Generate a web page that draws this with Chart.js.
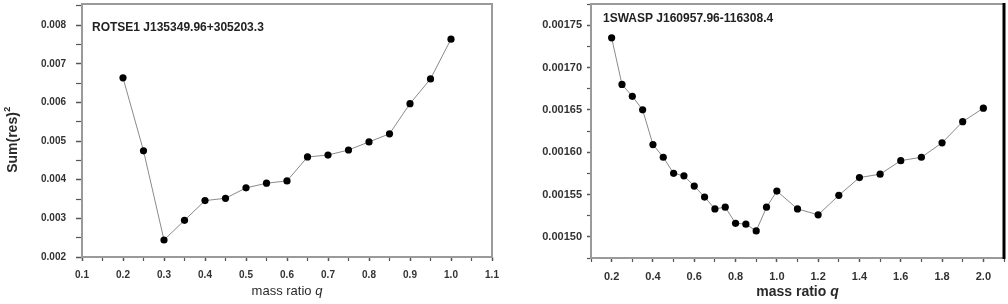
<!DOCTYPE html>
<html>
<head>
<meta charset="utf-8">
<script src="https://cdn.jsdelivr.net/npm/chart.js@4.4.1/dist/chart.umd.min.js"></script>
<style>
html,body{margin:0;padding:0;background:#fff;}
#wrap{position:relative;width:1008px;height:304px;overflow:hidden;}
.box{position:absolute;top:0;height:304px;}
</style>
</head>
<body>
<div id="wrap">
  <div class="box" style="left:0;width:500px;"><canvas id="c1"></canvas></div>
  <div class="box" style="left:500px;width:508px;"><canvas id="c2"></canvas></div>
</div>
<script>
// ---- data: ROTSE1 J135349.96+305203.3 ----
const qLeft = [0.20,0.25,0.30,0.35,0.40,0.45,0.50,0.55,0.60,0.65,0.70,0.75,0.80,0.85,0.90,0.95,1.00];
const sumLeft = [0.00664,0.00475,0.00244,0.00295,0.00346,0.00352,0.00379,0.00391,0.00397,0.00459,0.00464,0.00477,0.00498,0.00519,0.00597,0.00661,0.00764];
const titleLeft = 'ROTSE1 J135349.96+305203.3';

// ---- data: 1SWASP J160957.96-116308.4 ----
const qRight = [0.20,0.25,0.30,0.35,0.40,0.45,0.50,0.55,0.60,0.65,0.70,0.75,0.80,0.85,0.90,0.95,1.00,1.10,1.20,1.30,1.40,1.50,1.60,1.70,1.80,1.90,2.00];
const sumRight = [0.001735,0.001680,0.001666,0.001650,0.001609,0.001594,0.001575,0.001572,0.001560,0.001547,0.001533,0.001535,0.001516,0.001515,0.001507,0.001535,0.001554,0.001533,0.001526,0.001549,0.001570,0.001574,0.001590,0.001594,0.001611,0.001636,0.001652];
const titleRight = '1SWASP J160957.96-116308.4';

const xTitleMain = 'mass ratio ';
const xTitleVar = 'q';
const yTitleMain = 'Sum(res)';
const yTitleSup = '2';

const FONT = "'Liberation Sans', Arial, sans-serif";

const framePlugin = {
  id: 'frame',
  afterDraw(chart, args, o) {
    const {ctx, chartArea: a} = chart;
    ctx.save();
    ctx.lineWidth = 2;
    ctx.strokeStyle = o.color || '#999';
    ctx.strokeRect(a.left, a.top, a.right - a.left, a.bottom - a.top);
    if (o.rightColor) {
      ctx.strokeStyle = o.rightColor;
      ctx.lineWidth = 3;
      ctx.beginPath();
      ctx.moveTo(a.right, a.top - 1);
      ctx.lineTo(a.right, a.bottom + 1);
      ctx.stroke();
    }
    ctx.restore();
  }
};

const labelPlugin = {
  id: 'label',
  afterDraw(chart, args, o) {
    const {ctx, chartArea: a} = chart;
    ctx.save();
    ctx.font = o.font;
    ctx.fillStyle = '#222';
    ctx.textBaseline = 'middle';
    ctx.fillText(o.text, a.left + o.dx, a.top + o.dy);
    ctx.restore();
  }
};

// axis titles drawn as text (allows italic q and superscript 2)
const titlesPlugin = {
  id: 'titles',
  afterDraw(chart, args, o) {
    const ctx = chart.ctx;
    const a = chart.chartArea;
    ctx.save();
    ctx.fillStyle = '#2a2a2a';
    ctx.textBaseline = 'middle';
    // x title
    const f1 = o.xWeight + ' ' + o.xSize + 'px ' + FONT;
    const f2 = 'italic ' + o.xWeight + ' ' + o.xSize + 'px ' + FONT;
    ctx.font = f1; const w1 = ctx.measureText(xTitleMain).width;
    ctx.font = f2; const w2 = ctx.measureText(xTitleVar).width;
    const cx = (a.left + a.right) / 2 + o.xShift;
    let x0 = cx - (w1 + w2) / 2;
    ctx.font = f1; ctx.textAlign = 'left';
    ctx.fillText(xTitleMain, x0, o.xY);
    ctx.font = f2;
    ctx.fillText(xTitleVar, x0 + w1, o.xY);
    // y title
    if (o.yShow) {
      ctx.translate(o.yX, o.yY);
      ctx.rotate(-Math.PI / 2);
      const g1 = 'bold ' + o.ySize + 'px ' + FONT;
      const g2 = 'bold ' + Math.round(o.ySize * 0.65) + 'px ' + FONT;
      ctx.font = g1; const v1 = ctx.measureText(yTitleMain).width;
      ctx.font = g2; const v2 = ctx.measureText(yTitleSup).width;
      const s = -(v1 + v2) / 2;
      ctx.font = g1; ctx.fillText(yTitleMain, s, 0);
      ctx.font = g2; ctx.fillText(yTitleSup, s + v1 + 0.5, -o.ySize * 0.42);
    }
    ctx.restore();
  }
};

function isMult(v, step) {
  const r = v / step;
  return Math.abs(r - Math.round(r)) < 1e-6;
}

function makeChart(id, cfg) {
  const pts = cfg.xs.map((x, i) => ({x: x, y: cfg.ys[i]}));
  return new Chart(document.getElementById(id), {
    type: 'line',
    data: {
      datasets: [{
        data: pts,
        borderColor: '#8a8a8a',
        borderWidth: 1,
        pointRadius: 3.6,
        pointBackgroundColor: '#000',
        pointBorderColor: '#000',
        pointBorderWidth: 0,
        tension: 0
      }]
    },
    options: {
      responsive: true,
      maintainAspectRatio: false,
      animation: false,
      events: [],
      layout: {padding: {top: cfg.padTop, right: cfg.padRight, left: 0, bottom: 0}},
      plugins: {
        legend: {display: false},
        tooltip: {enabled: false},
        frame: {color: '#9a9a9a', rightColor: cfg.rightColor},
        label: {text: cfg.label, font: 'bold ' + cfg.labelSize + 'px ' + FONT, dx: cfg.labelDx, dy: cfg.labelDy},
        titles: cfg.titles
      },
      scales: {
        x: {
          type: 'linear',
          min: cfg.xmin, max: cfg.xmax,
          border: {display: false},
          grid: {
            drawOnChartArea: false, drawTicks: true, tickLength: 4,
            tickColor: '#555',
            tickWidth: c => isMult(c.tick.value, cfg.xMajor) ? 1.5 : 1.2
          },
          ticks: {
            stepSize: cfg.xStep,
            includeBounds: false,
            autoSkip: false,
            maxRotation: 0,
            padding: 8,
            color: '#333',
            font: {family: FONT, size: cfg.tickSize, weight: 'bold'},
            callback: v => isMult(v, cfg.xMajor) ? v.toFixed(1) : ''
          },
          afterFit: s => { s.height = cfg.xAxisH; s.paddingLeft = 0; s.paddingRight = 0; s.paddingTop = 0; s.paddingBottom = 0; }
        },
        y: {
          type: 'linear',
          min: cfg.ymin, max: cfg.ymax,
          border: {display: false},
          grid: {
            drawOnChartArea: false, drawTicks: true, tickLength: cfg.yTickLen,
            tickColor: '#555',
            tickWidth: c => isMult(c.tick.value, cfg.yMajor) ? 1.5 : 1.2
          },
          ticks: {
            stepSize: cfg.yStep,
            includeBounds: false,
            autoSkip: false,
            padding: cfg.yPad,
            color: '#333',
            font: {family: FONT, size: cfg.tickSize, weight: 'bold'},
            callback: v => isMult(v, cfg.yMajor) ? v.toFixed(cfg.yDec) : ''
          },
          afterFit: s => { s.width = cfg.yAxisW; s.paddingLeft = 0; s.paddingRight = 0; s.paddingTop = 0; s.paddingBottom = 0; }
        }
      }
    },
    plugins: [framePlugin, labelPlugin, titlesPlugin]
  });
}

makeChart('c1', {
  xs: qLeft, ys: sumLeft, label: titleLeft, labelSize: 12, labelDx: 10, labelDy: 24,
  xmin: 0.1, xmax: 1.1, xStep: 0.05, xMajor: 0.1,
  ymin: 0.002, ymax: 0.00855, yStep: 0.0005, yMajor: 0.001, yDec: 3,
  padTop: 1, padRight: 8, yAxisW: 82, xAxisH: 47, yTickLen: 6, yPad: 10,
  tickSize: 10, rightColor: null,
  titles: {xWeight: 'normal', xSize: 13, xY: 291, xShift: 0, yShow: true, yX: 13, yY: 140, ySize: 14}
});

makeChart('c2', {
  xs: qRight, ys: sumRight, label: titleRight, labelSize: 12, labelDx: 12, labelDy: 15,
  xmin: 0.1, xmax: 2.1, xStep: 0.1, xMajor: 0.2,
  ymin: 0.001475, ymax: 0.001775, yStep: 0.000025, yMajor: 0.00005, yDec: 5,
  padTop: 3, padRight: 1, yAxisW: 91, xAxisH: 46, yTickLen: 4, yPad: 5,
  tickSize: 11, rightColor: '#000',
  titles: {xWeight: 'bold', xSize: 14, xY: 292, xShift: 0, yShow: false}
});
</script>
</body>
</html>
